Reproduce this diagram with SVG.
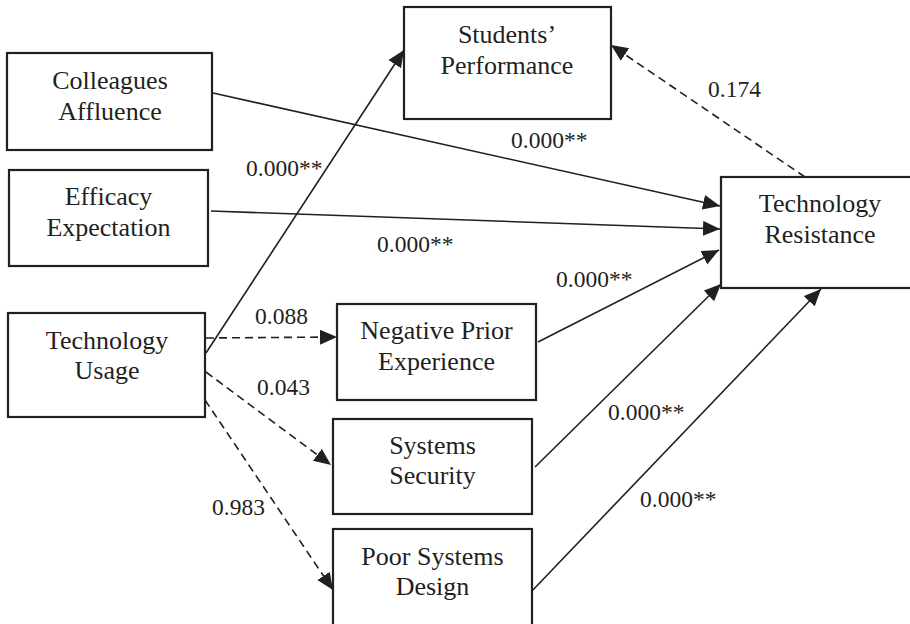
<svg xmlns="http://www.w3.org/2000/svg" width="910" height="624" viewBox="0 0 910 624">
<defs>
<marker id="ah" markerUnits="userSpaceOnUse" markerWidth="18" markerHeight="16" refX="17" refY="7.5" orient="auto">
<path d="M0,0 L17,7.5 L0,15 Z" fill="#231f20"/>
</marker>
<style>
.box{fill:#fff;stroke:#231f20;stroke-width:2.2}
.t{font-family:"Liberation Serif","Times New Roman",serif;font-size:26px;fill:#231f20;text-anchor:middle}
.l{font-family:"Liberation Serif","Times New Roman",serif;font-size:23.5px;fill:#231f20}
.c{fill:none;stroke:#231f20;stroke-width:1.6;marker-end:url(#ah)}
.d{stroke-dasharray:8 5}
</style>
</defs>
<rect width="910" height="624" fill="#fff"/>
<g id="connectors">
<path class="c" d="M213,93 L720,206"/>
<path class="c" d="M211,211 L720,229"/>
<path class="c" d="M206,353 L404,50"/>
<path class="c d" d="M805,177 L611,45"/>
<path class="c" d="M538,342 L719,250"/>
<path class="c" d="M535,467 L721,284"/>
<path class="c" d="M531,592 L821,289"/>
<path class="c d" d="M206,338 L337,337"/>
<path class="c d" d="M206,372 L331,465"/>
<path class="c d" d="M205,400 L333,590"/>
</g>
<g id="colleagues">
<rect class="box" x="7" y="53" width="205" height="97"/>
<text class="t" x="110" y="89">Colleagues</text>
<text class="t" x="110" y="120">Affluence</text>
</g>
<g id="efficacy">
<rect class="box" x="9" y="170" width="199" height="96"/>
<text class="t" x="108.5" y="205">Efficacy</text>
<text class="t" x="108.5" y="236">Expectation</text>
</g>
<g id="students">
<rect class="box" x="404" y="7" width="207" height="112"/>
<text class="t" x="507" y="43">Students’</text>
<text class="t" x="507" y="74">Performance</text>
</g>
<g id="resistance">
<rect class="box" x="721" y="177" width="200" height="111"/>
<text class="t" x="820" y="212">Technology</text>
<text class="t" x="820" y="243">Resistance</text>
</g>
<g id="usage">
<rect class="box" x="8" y="313" width="197" height="104"/>
<text class="t" x="107" y="349">Technology</text>
<text class="t" x="107" y="379">Usage</text>
</g>
<g id="negative">
<rect class="box" x="337" y="304" width="199" height="96"/>
<text class="t" x="436.5" y="339">Negative Prior</text>
<text class="t" x="436.5" y="370">Experience</text>
</g>
<g id="security">
<rect class="box" x="333" y="419" width="199" height="95"/>
<text class="t" x="432.5" y="454">Systems</text>
<text class="t" x="432.5" y="484">Security</text>
</g>
<g id="design">
<rect class="box" x="333" y="529" width="199" height="110"/>
<text class="t" x="432.5" y="565">Poor Systems</text>
<text class="t" x="432.5" y="595">Design</text>
</g>
<g id="labels">
<text class="l" x="246" y="176">0.000**</text>
<text class="l" x="511" y="148">0.000**</text>
<text class="l" x="377" y="252">0.000**</text>
<text class="l" x="708" y="97">0.174</text>
<text class="l" x="556" y="287">0.000**</text>
<text class="l" x="255" y="324">0.088</text>
<text class="l" x="257" y="395">0.043</text>
<text class="l" x="212" y="515">0.983</text>
<text class="l" x="608" y="420">0.000**</text>
<text class="l" x="640" y="507">0.000**</text>
</g>
</svg>
